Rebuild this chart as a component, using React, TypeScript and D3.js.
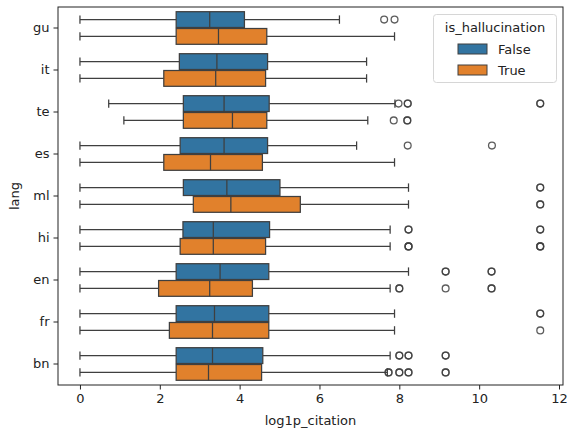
import React, { useEffect, useRef } from "react";
import * as d3 from "d3";

const langs = ["gu", "it", "te", "es", "ml", "hi", "en", "fr", "bn"];
const hues = ["False", "True"];
const hueColors = ["#3274a1", "#e1812c"];

// [lowWhisker, q1, median, q3, highWhisker] per lang
const falseBoxes = [
  [0, 2.41, 3.25, 4.12, 6.5],
  [0, 2.49, 3.43, 4.7, 7.18],
  [0.72, 2.59, 3.61, 4.74, 7.89],
  [0, 2.51, 3.61, 4.7, 6.93],
  [0, 2.59, 3.68, 5.01, 8.23],
  [0, 2.58, 3.34, 4.75, 7.77],
  [0, 2.41, 3.51, 4.73, 8.23],
  [0, 2.41, 3.37, 4.73, 7.88],
  [0, 2.41, 3.32, 4.58, 7.77],
];
const trueBoxes = [
  [0, 2.41, 3.47, 4.68, 7.88],
  [0, 2.1, 3.4, 4.65, 7.18],
  [1.1, 2.59, 3.82, 4.68, 7.21],
  [0, 2.1, 3.27, 4.57, 7.88],
  [0, 2.84, 3.78, 5.52, 8.23],
  [0, 2.51, 3.34, 4.65, 7.77],
  [0, 1.97, 3.25, 4.32, 7.77],
  [0, 2.24, 3.32, 4.73, 7.88],
  [0, 2.41, 3.22, 4.55, 7.7],
];
// repeated values = several points at the same spot
const falseOutliers = [
  [7.62, 7.88],
  [],
  [7.98, 8.21, 8.21, 11.53, 11.53],
  [8.21, 10.32],
  [11.53, 11.53],
  [8.23, 8.23, 11.53, 11.53],
  [9.16, 9.16, 10.31, 10.31],
  [11.53, 11.53],
  [8.0, 8.0, 8.23, 8.23, 9.16, 9.16],
];
const trueOutliers = [
  [],
  [],
  [7.86, 8.2, 8.2],
  [],
  [11.53, 11.53],
  [8.23, 8.23, 8.23, 11.53, 11.53, 11.53],
  [8.0, 8.0, 9.16, 10.31, 10.31],
  [11.53],
  [7.73, 7.73, 8.0, 8.0, 8.23, 8.23, 9.16, 9.16],
];
const xTicks = [0, 2, 4, 6, 8, 10, 12];

const W = 567;
const H = 432;
const left = 58, right = 563, top = 7, bottom = 385;
const lineColor = "#3f3f3f";
const font = "DejaVu Sans, sans-serif";
const fs = 13;

export default function App() {
  const ref = useRef<SVGSVGElement>(null);

  useEffect(() => {
    const svg = d3.select(ref.current);
    svg.selectAll("*").remove();

    const x = d3.scaleLinear().domain([-0.55, 12.1]).range([left, right]);
    const y = d3.scaleBand().domain(langs).range([top, bottom]);
    const bw = y.bandwidth();
    const hy = d3.scaleBand().domain(hues).range([-0.4 * bw, 0.4 * bw]);
    const hb = hy.bandwidth();

    const boxesByHue = [falseBoxes, trueBoxes];
    const outByHue = [falseOutliers, trueOutliers];

    const plot = svg.append("g");

    hues.forEach((h, hi) => {
      langs.forEach((l, li) => {
        const [lo, q1, med, q3, hiW] = boxesByHue[hi][li];
        const y0 = (y(l) as number) + bw / 2 + (hy(h) as number);
        const cy = y0 + hb / 2;
        const g = plot.append("g");
        // whiskers
        g.append("line").attr("x1", x(lo)).attr("x2", x(q1)).attr("y1", cy).attr("y2", cy)
          .attr("stroke", lineColor).attr("stroke-width", 1.25);
        g.append("line").attr("x1", x(q3)).attr("x2", x(hiW)).attr("y1", cy).attr("y2", cy)
          .attr("stroke", lineColor).attr("stroke-width", 1.25);
        // caps
        [lo, hiW].forEach((v) => {
          g.append("line").attr("x1", x(v)).attr("x2", x(v))
            .attr("y1", cy - hb / 4).attr("y2", cy + hb / 4)
            .attr("stroke", lineColor).attr("stroke-width", 1.25);
        });
        // box
        g.append("rect")
          .attr("x", x(q1)).attr("y", y0 + 0.5)
          .attr("width", x(q3) - x(q1)).attr("height", hb - 1)
          .attr("fill", hueColors[hi]).attr("stroke", lineColor).attr("stroke-width", 1.25);
        g.append("line").attr("x1", x(med)).attr("x2", x(med))
          .attr("y1", y0 + 0.5).attr("y2", y0 + hb - 0.5)
          .attr("stroke", lineColor).attr("stroke-width", 1.25);
        // outliers
        g.selectAll("circle.o").data(outByHue[hi][li]).enter().append("circle")
          .attr("cx", (d) => x(d)).attr("cy", cy).attr("r", 3.4)
          .attr("fill", "none").attr("stroke", lineColor).attr("stroke-width", 1.3)
          .attr("stroke-opacity", 0.85);
      });
    });

    // axes
    const xa = svg.append("g").attr("transform", `translate(0,${bottom})`)
      .call(d3.axisBottom(x).tickValues(xTicks).tickSize(4.5).tickPadding(4));
    const ya = svg.append("g").attr("transform", `translate(${left},0)`)
      .call(d3.axisLeft(y).tickSize(4.5).tickPadding(4));
    [xa, ya].forEach((a) => {
      a.select(".domain").remove();
      a.selectAll("line").attr("stroke", "#222").attr("stroke-width", 1);
      a.selectAll("text").attr("font-family", font).attr("font-size", fs).attr("fill", "#222");
    });

    // frame
    svg.append("rect").attr("x", left).attr("y", top)
      .attr("width", right - left).attr("height", bottom - top)
      .attr("fill", "none").attr("stroke", "#222").attr("stroke-width", 1);

    // axis labels
    svg.append("text").attr("x", (left + right) / 2).attr("y", 425)
      .attr("text-anchor", "middle").attr("font-family", font).attr("font-size", fs)
      .attr("fill", "#222").text("log1p_citation");
    svg.append("text").attr("transform", `translate(19,${(top + bottom) / 2}) rotate(-90)`)
      .attr("text-anchor", "middle").attr("font-family", font).attr("font-size", fs)
      .attr("fill", "#222").text("lang");

    // legend
    const lg = svg.append("g");
    lg.append("rect").attr("x", 433.5).attr("y", 14.5).attr("width", 123).attr("height", 68)
      .attr("rx", 3).attr("fill", "#fff").attr("fill-opacity", 0.8)
      .attr("stroke", "#d6d6d6").attr("stroke-width", 1);
    lg.append("text").attr("x", 495).attr("y", 32).attr("text-anchor", "middle")
      .attr("font-family", font).attr("font-size", fs).attr("fill", "#222").text("is_hallucination");
    hues.forEach((h, i) => {
      const ty = 44 + i * 21;
      lg.append("rect").attr("x", 458).attr("y", ty).attr("width", 29).attr("height", 10)
        .attr("fill", hueColors[i]).attr("stroke", lineColor).attr("stroke-width", 1);
      lg.append("text").attr("x", 498).attr("y", ty + 10)
        .attr("font-family", font).attr("font-size", fs).attr("fill", "#222").text(h);
    });
  }, []);

  return (
    <svg ref={ref} width={W} height={H}
      style={{ position: "absolute", left: 0, top: 0, background: "#fff" }} />
  );
}
